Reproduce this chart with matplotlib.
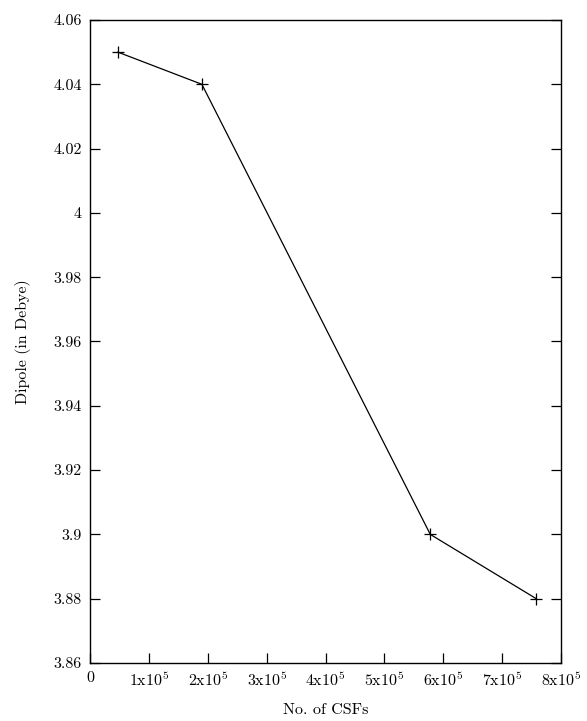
import matplotlib
matplotlib.use('Agg')
import matplotlib.pyplot as plt

# 데이터
csfs = [47500, 190000, 578000, 758000]
dipole = [4.05, 4.04, 3.90, 3.88]

xticks = [0, 1e5, 2e5, 3e5, 4e5, 5e5, 6e5, 7e5, 8e5]
xtick_labels = ['0'] + [r'$\mathrm{%dx10^5}$' % i for i in range(1, 9)]
yticks = [3.86, 3.88, 3.90, 3.92, 3.94, 3.96, 3.98, 4.00, 4.02, 4.04, 4.06]
ytick_labels = ['3.86', '3.88', '3.9', '3.92', '3.94', '3.96', '3.98', '4', '4.02', '4.04', '4.06']

plt.rcParams['font.family'] = ['cmr10', 'DejaVu Serif']
plt.rcParams['mathtext.fontset'] = 'cm'
plt.rcParams['axes.unicode_minus'] = False

fig = plt.figure(figsize=(5.87, 7.21), dpi=100)
ax = fig.add_axes([90/587, 58/721, 471/587, 643/721])

ax.plot(csfs, dipole, color='black', linewidth=0.9, marker='+',
        markersize=9, markeredgewidth=0.9)

ax.set_xlim(0, 8e5)
ax.set_ylim(3.86, 4.06)
ax.set_xticks(xticks)
ax.set_xticklabels(xtick_labels, fontsize=11.5)
ax.set_yticks(yticks)
ax.set_yticklabels(ytick_labels, fontsize=11.5)

ax.tick_params(axis='both', direction='in', length=7, width=0.9, pad=6)
ax.tick_params(axis='y', right=True)
ax.tick_params(axis='x', top=False)
for s in ax.spines.values():
    s.set_linewidth(1.0)

ax.set_xlabel('No. of CSFs', fontsize=11.5, labelpad=10)
ax.set_ylabel('Dipole (in Debye)', fontsize=11.5, labelpad=16)

fig.savefig('out.png', dpi=100)
